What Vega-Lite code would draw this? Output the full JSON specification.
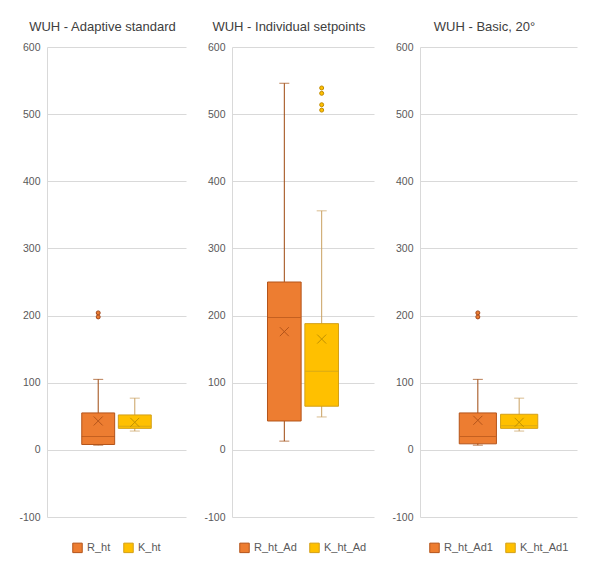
{
  "$schema": "https://vega.github.io/schema/vega-lite/v6.json",
  "background": "white",
  "padding": {"left": 18, "top": 21, "right": 5, "bottom": 5},
  "spacing": 17,
  "datasets": {
    "box": [
      {"panel": "A", "series": "R_ht", "lo": 7, "q1": 8, "med": 20, "q3": 55, "hi": 105, "mean": 43},
      {"panel": "A", "series": "K_ht", "lo": 28, "q1": 32, "med": 35, "q3": 52, "hi": 77, "mean": 41},
      {"panel": "B", "series": "R_ht_Ad", "lo": 13, "q1": 43, "med": 197, "q3": 250, "hi": 546, "mean": 176},
      {"panel": "B", "series": "K_ht_Ad", "lo": 49, "q1": 65, "med": 117, "q3": 188, "hi": 356, "mean": 165},
      {"panel": "C", "series": "R_ht_Ad1", "lo": 7, "q1": 9, "med": 20, "q3": 55, "hi": 105, "mean": 44},
      {"panel": "C", "series": "K_ht_Ad1", "lo": 28, "q1": 32, "med": 36, "q3": 53, "hi": 77, "mean": 41}
    ],
    "out": [
      {"panel": "A", "series": "R_ht", "value": 198},
      {"panel": "A", "series": "R_ht", "value": 204},
      {"panel": "B", "series": "K_ht_Ad", "value": 506},
      {"panel": "B", "series": "K_ht_Ad", "value": 514},
      {"panel": "B", "series": "K_ht_Ad", "value": 531},
      {"panel": "B", "series": "K_ht_Ad", "value": 539},
      {"panel": "C", "series": "R_ht_Ad1", "value": 198},
      {"panel": "C", "series": "R_ht_Ad1", "value": 204}
    ]
  },
  "config": {
    "font": "Liberation Sans",
    "view": {"stroke": null},
    "axisY": {
      "grid": true, "gridColor": "#D9D9D9", "domainColor": "#D9D9D9", "ticks": false, "tickSize": 0,
      "labelPadding": 7, "labelFontSize": 10.5, "labelColor": "#595959", "title": null
    },
    "title": {"fontSize": 13, "fontWeight": "normal", "color": "#404040", "frame": "bounds", "anchor": "middle", "offset": 8},
    "legend": {"orient": "bottom", "direction": "horizontal", "title": null, "labelFontSize": 11, "labelColor": "#595959", "symbolSize": 90, "symbolStrokeWidth": 1, "offset": 25, "columnPadding": 10, "labelOffset": 4,
      "layout": {"bottom": {"anchor": "middle"}}}
  },
  "resolve": {"scale": {"fill": "independent", "stroke": "independent", "x": "independent"}, "legend": {"fill": "independent", "stroke": "independent"}},
  "hconcat": [
    {
      "title": "WUH - Adaptive standard",
      "width": 139, "height": 470,
      "data": {"name": "box"},
      "transform": [{"filter": "datum.panel === 'A'"}],
      "encoding": {
        "x": {"field": "series", "type": "nominal", "axis": null, "scale": {"domain": ["R_ht", "K_ht"], "paddingInner": 0.1, "paddingOuter": 0.95}}
      },
      "layer": [
        {"mark": {"type": "rule", "strokeWidth": 1},
         "encoding": {"y": {"field": "lo", "type": "quantitative", "scale": {"domain": [-100, 600], "nice": false}, "axis": {"values": [-100, 0, 100, 200, 300, 400, 500, 600], "labelExpr": "'' + datum.value"}}, "y2": {"field": "hi"},
           "color": {"condition": {"test": "indexof(datum.series,'R_')===0", "value": "#9E480E"}, "value": "#C9A060"}}},
        {"mark": {"type": "tick", "size": 10, "thickness": 1},
         "encoding": {"y": {"field": "lo", "type": "quantitative"},
           "color": {"condition": {"test": "indexof(datum.series,'R_')===0", "value": "#9E480E"}, "value": "#C9A060"}}},
        {"mark": {"type": "tick", "size": 10, "thickness": 1},
         "encoding": {"y": {"field": "hi", "type": "quantitative"},
           "color": {"condition": {"test": "indexof(datum.series,'R_')===0", "value": "#9E480E"}, "value": "#C9A060"}}},
        {"mark": {"type": "bar", "strokeWidth": 1},
         "encoding": {"y": {"field": "q1", "type": "quantitative"}, "y2": {"field": "q3"},
           "fill": {"field": "series", "type": "nominal", "scale": {"domain": ["R_ht", "K_ht"], "range": ["#ED7D31", "#FFC000"]}},
           "stroke": {"field": "series", "type": "nominal", "scale": {"domain": ["R_ht", "K_ht"], "range": ["#B4541A", "#D4A017"]}}}},
        {"mark": {"type": "tick", "size": 33, "thickness": 1},
         "encoding": {"y": {"field": "med", "type": "quantitative"},
           "color": {"condition": {"test": "indexof(datum.series,'R_')===0", "value": "#B4541A"}, "value": "#C9A020"}}},
        {"mark": {"type": "point", "shape": "M-1,-1L1,1M-1,1L1,-1", "size": 81, "filled": false, "strokeWidth": 1, "opacity": 1},
         "encoding": {"y": {"field": "mean", "type": "quantitative"},
           "color": {"condition": {"test": "indexof(datum.series,'R_')===0", "value": "#B4541A"}, "value": "#C09000"}}},
        {"data": {"name": "out"}, "transform": [{"filter": "datum.panel === 'A'"}],
         "mark": {"type": "point", "shape": "circle", "size": 16, "filled": true, "strokeWidth": 1, "opacity": 1},
         "encoding": {"y": {"field": "value", "type": "quantitative"},
           "fill": {"value": "#ED7D31"}, "stroke": {"value": "#A0461A"}}}
      ]
    },
    {
      "title": "WUH - Individual setpoints",
      "width": 142, "height": 470,
      "data": {"name": "box"},
      "transform": [{"filter": "datum.panel === 'B'"}],
      "encoding": {
        "x": {"field": "series", "type": "nominal", "axis": null, "scale": {"domain": ["R_ht_Ad", "K_ht_Ad"], "paddingInner": 0.1, "paddingOuter": 0.95}}
      },
      "layer": [
        {"mark": {"type": "rule", "strokeWidth": 1},
         "encoding": {"y": {"field": "lo", "type": "quantitative", "scale": {"domain": [-100, 600], "nice": false}, "axis": {"values": [-100, 0, 100, 200, 300, 400, 500, 600], "labelExpr": "'' + datum.value"}}, "y2": {"field": "hi"},
           "color": {"condition": {"test": "indexof(datum.series,'R_')===0", "value": "#9E480E"}, "value": "#C9A060"}}},
        {"mark": {"type": "tick", "size": 10, "thickness": 1},
         "encoding": {"y": {"field": "lo", "type": "quantitative"},
           "color": {"condition": {"test": "indexof(datum.series,'R_')===0", "value": "#9E480E"}, "value": "#C9A060"}}},
        {"mark": {"type": "tick", "size": 10, "thickness": 1},
         "encoding": {"y": {"field": "hi", "type": "quantitative"},
           "color": {"condition": {"test": "indexof(datum.series,'R_')===0", "value": "#9E480E"}, "value": "#C9A060"}}},
        {"mark": {"type": "bar", "strokeWidth": 1},
         "encoding": {"y": {"field": "q1", "type": "quantitative"}, "y2": {"field": "q3"},
           "fill": {"field": "series", "type": "nominal", "scale": {"domain": ["R_ht_Ad", "K_ht_Ad"], "range": ["#ED7D31", "#FFC000"]}},
           "stroke": {"field": "series", "type": "nominal", "scale": {"domain": ["R_ht_Ad", "K_ht_Ad"], "range": ["#B4541A", "#D4A017"]}}}},
        {"mark": {"type": "tick", "size": 33, "thickness": 1},
         "encoding": {"y": {"field": "med", "type": "quantitative"},
           "color": {"condition": {"test": "indexof(datum.series,'R_')===0", "value": "#B4541A"}, "value": "#C9A020"}}},
        {"mark": {"type": "point", "shape": "M-1,-1L1,1M-1,1L1,-1", "size": 81, "filled": false, "strokeWidth": 1, "opacity": 1},
         "encoding": {"y": {"field": "mean", "type": "quantitative"},
           "color": {"condition": {"test": "indexof(datum.series,'R_')===0", "value": "#B4541A"}, "value": "#C09000"}}},
        {"data": {"name": "out"}, "transform": [{"filter": "datum.panel === 'B'"}],
         "mark": {"type": "point", "shape": "circle", "size": 16, "filled": true, "strokeWidth": 1, "opacity": 1},
         "encoding": {"y": {"field": "value", "type": "quantitative"},
           "fill": {"value": "#FFC000"}, "stroke": {"value": "#C08A00"}}}
      ]
    },
    {
      "title": "WUH - Basic, 20°",
      "width": 157, "height": 470,
      "data": {"name": "box"},
      "transform": [{"filter": "datum.panel === 'C'"}],
      "encoding": {
        "x": {"field": "series", "type": "nominal", "axis": null, "scale": {"domain": ["R_ht_Ad1", "K_ht_Ad1"], "paddingInner": 0.1, "paddingOuter": 0.95}}
      },
      "layer": [
        {"mark": {"type": "rule", "strokeWidth": 1},
         "encoding": {"y": {"field": "lo", "type": "quantitative", "scale": {"domain": [-100, 600], "nice": false}, "axis": {"values": [-100, 0, 100, 200, 300, 400, 500, 600], "labelExpr": "'' + datum.value"}}, "y2": {"field": "hi"},
           "color": {"condition": {"test": "indexof(datum.series,'R_')===0", "value": "#9E480E"}, "value": "#C9A060"}}},
        {"mark": {"type": "tick", "size": 10, "thickness": 1},
         "encoding": {"y": {"field": "lo", "type": "quantitative"},
           "color": {"condition": {"test": "indexof(datum.series,'R_')===0", "value": "#9E480E"}, "value": "#C9A060"}}},
        {"mark": {"type": "tick", "size": 10, "thickness": 1},
         "encoding": {"y": {"field": "hi", "type": "quantitative"},
           "color": {"condition": {"test": "indexof(datum.series,'R_')===0", "value": "#9E480E"}, "value": "#C9A060"}}},
        {"mark": {"type": "bar", "strokeWidth": 1},
         "encoding": {"y": {"field": "q1", "type": "quantitative"}, "y2": {"field": "q3"},
           "fill": {"field": "series", "type": "nominal", "scale": {"domain": ["R_ht_Ad1", "K_ht_Ad1"], "range": ["#ED7D31", "#FFC000"]}},
           "stroke": {"field": "series", "type": "nominal", "scale": {"domain": ["R_ht_Ad1", "K_ht_Ad1"], "range": ["#B4541A", "#D4A017"]}}}},
        {"mark": {"type": "tick", "size": 36, "thickness": 1},
         "encoding": {"y": {"field": "med", "type": "quantitative"},
           "color": {"condition": {"test": "indexof(datum.series,'R_')===0", "value": "#B4541A"}, "value": "#C9A020"}}},
        {"mark": {"type": "point", "shape": "M-1,-1L1,1M-1,1L1,-1", "size": 81, "filled": false, "strokeWidth": 1, "opacity": 1},
         "encoding": {"y": {"field": "mean", "type": "quantitative"},
           "color": {"condition": {"test": "indexof(datum.series,'R_')===0", "value": "#B4541A"}, "value": "#C09000"}}},
        {"data": {"name": "out"}, "transform": [{"filter": "datum.panel === 'C'"}],
         "mark": {"type": "point", "shape": "circle", "size": 16, "filled": true, "strokeWidth": 1, "opacity": 1},
         "encoding": {"y": {"field": "value", "type": "quantitative"},
           "fill": {"value": "#ED7D31"}, "stroke": {"value": "#A0461A"}}}
      ]
    }
  ]
}
